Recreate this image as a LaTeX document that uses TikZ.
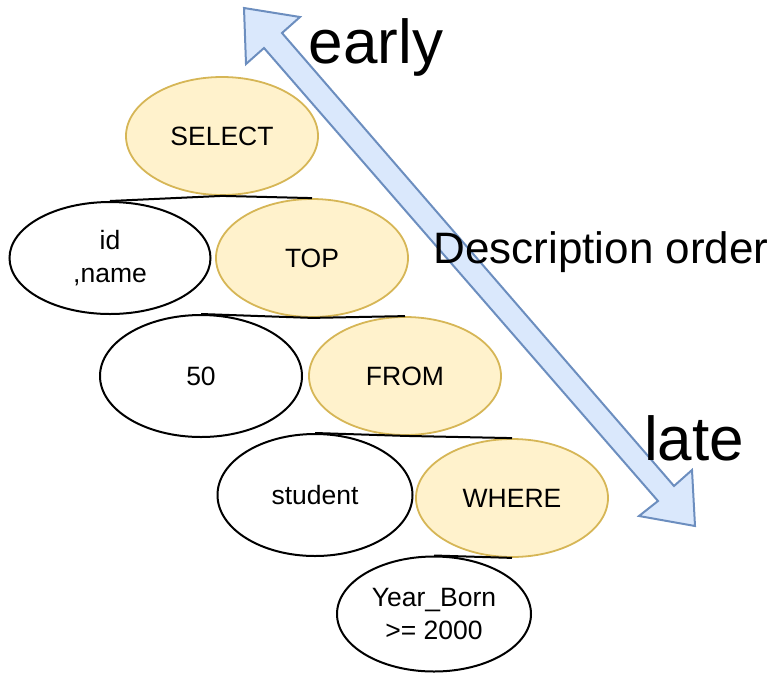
\documentclass[tikz,border=0pt]{standalone}
\usepackage{fontspec}
\setmainfont{Liberation Sans}
\usetikzlibrary{shapes.geometric}
\definecolor{kwfill}{HTML}{FFF2CC}
\definecolor{kwline}{HTML}{D6B656}
\definecolor{arrfill}{HTML}{DAE8FC}
\definecolor{arrline}{HTML}{6C8EBF}
\begin{document}
\begin{tikzpicture}[x=1pt,y=-1pt,
	kw/.style={ellipse,draw=kwline,fill=kwfill,line width=1.8pt,minimum width=192pt,minimum height=118pt,inner sep=0pt,font=\fontsize{26.5}{33}\selectfont},
	arg/.style={ellipse,draw=black,fill=white,line width=2pt,minimum width=197pt,minimum height=118pt,inner sep=0pt,align=center,font=\fontsize{26.5}{33}\selectfont},
	link/.style={line width=2pt,black},
	bigword/.style={anchor=base,inner sep=0pt,font=\fontsize{62}{70}\selectfont}]
		
		\useasboundingbox (0,0) rectangle (782,673);
		
		% order arrow
		\draw[arrline,fill=arrfill,line width=2pt,line join=miter]
		(244,8) -- (300,17) -- (282,33) -- (674,486) -- (692,470) -- (695,526)
		-- (639,516) -- (658,501) -- (264,48) -- (246,64) -- cycle;
		
		\node[kw] (select) at (222,136) {SELECT};
		\node[arg,minimum width=201pt,minimum height=112pt] (idname) at (110,258) {id\\,name};
		\node[kw] (top) at (312,258) {TOP};
		\node[arg,minimum width=202pt,minimum height=122pt] (fifty) at (201,376) {50};
		\node[kw] (from) at (405,376) {FROM};
		\node[arg,minimum width=195pt,minimum height=122pt] (student) at (315,495) {student};
		\node[kw] (where) at (512,498) {WHERE};
		\node[arg,minimum width=194pt,minimum height=115pt] (cond) at (434,614) {Year\_Born\\>= 2000};
		
		\draw[link] (select.south) -- (idname.north);
		\draw[link] (select.south) -- (top.north);
		\draw[link] (top.south) -- (fifty.north);
		\draw[link] (top.south) -- (from.north);
		\draw[link] (from.south) -- (student.north);
		\draw[link] (from.south) -- (where.north);
		\draw[link] (where.south) -- (cond.north);
		
		\node[bigword] (early) at (376,63) {early};
		\node[bigword] (late) at (694,460) {late};
		\node[bigword,font=\fontsize{44}{50}\selectfont] (desc) at (601,263) {Description order};
	\end{tikzpicture}
\end{document}
